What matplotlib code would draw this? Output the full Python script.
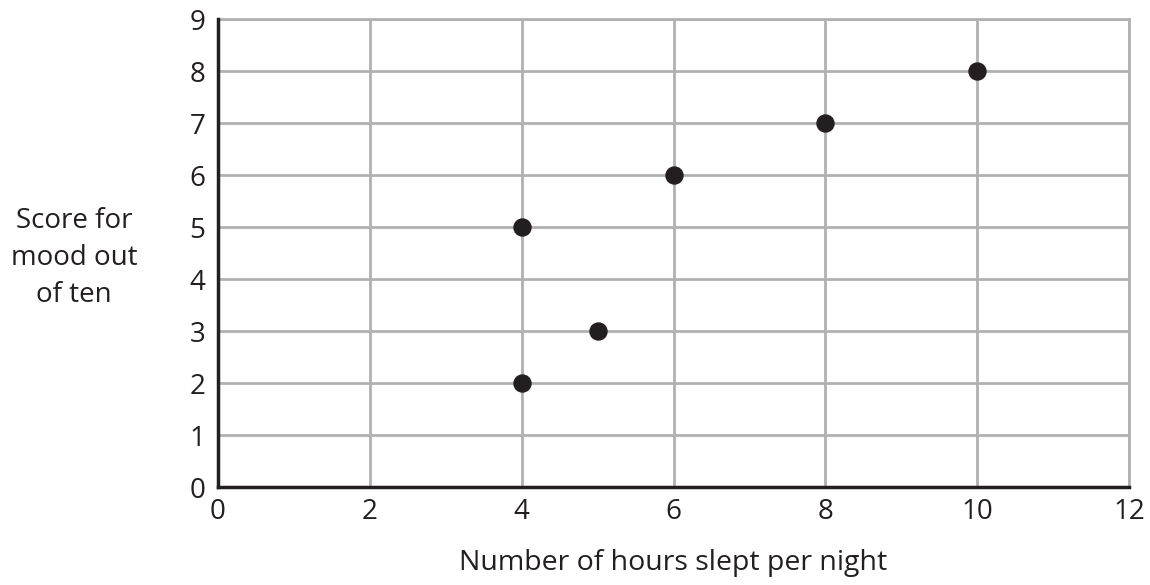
import matplotlib.pyplot as plt

# Dados do gráfico de dispersão
horas_sono = [4, 4, 5, 6, 8, 10]
humor = [2, 5, 3, 6, 7, 8]
x_ticks = [0, 2, 4, 6, 8, 10, 12]
y_ticks = [0, 1, 2, 3, 4, 5, 6, 7, 8, 9]

plt.rcParams['font.family'] = ['Open Sans', 'DejaVu Sans']

fig = plt.figure(figsize=(11.5, 5.85), dpi=100)
ax = fig.add_axes([218 / 1150, 1 - 487 / 585, (1129 - 218) / 1150, (487 - 19) / 585])

ax.scatter(horas_sono, humor, s=150, color='#231f20', zorder=3, clip_on=False)

ax.set_xlim(0, 12)
ax.set_ylim(0, 9)
ax.set_xticks(x_ticks)
ax.set_yticks(y_ticks)
ax.tick_params(axis='both', length=0, labelsize=20, colors='#231f20')
ax.tick_params(axis='x', pad=8)
ax.tick_params(axis='y', pad=9)

ax.grid(True, color='#b1b1b4', linewidth=2)
ax.set_axisbelow(True)
for lado in ['top', 'right']:
    ax.spines[lado].set_color('#b1b1b4')
    ax.spines[lado].set_linewidth(2)
for lado in ['left', 'bottom']:
    ax.spines[lado].set_color('#231f20')
    ax.spines[lado].set_linewidth(2.5)
    ax.spines[lado].set_zorder(4)

fig.text(673 / 1150, 1 - 563 / 585, 'Number of hours slept per night', ha='center', va='center',
         fontsize=20.5, color='#231f20')
fig.text(74 / 1150, 1 - 258 / 585, 'Score for\nmood out\nof ten', ha='center', va='center',
         fontsize=20, color='#231f20', linespacing=1.45)

plt.savefig('out.png', dpi=100)
plt.close()
